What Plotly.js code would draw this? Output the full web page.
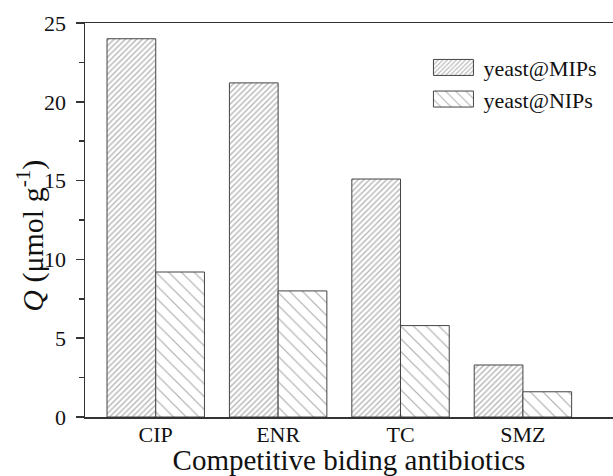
<!DOCTYPE html>
<html>
<head>
<meta charset="utf-8">
<script src="https://cdn.plot.ly/plotly-3.0.1.min.js"></script>
<style>
  html, body { margin: 0; padding: 0; background: #fff; }
  #chart { width: 613px; height: 476px; }
</style>
</head>
<body>
<div id="chart"></div>
<script>
// Competitive adsorption of antibiotics on yeast-based imprinted / non-imprinted polymers
const antibiotics = ['CIP', 'ENR', 'TC', 'SMZ'];
const mipsQ = [24.0, 21.2, 15.1, 3.3];
const nipsQ = [9.2, 8.0, 5.8, 1.6];
const seriesNames = ['yeast@MIPs', 'yeast@NIPs'];
const yTicks = [0, 5, 10, 15, 20, 25];
const yTitle = '<i>Q</i> (μmol g<sup>-1</sup>)';
const xTitle = 'Competitive biding antibiotics';

const serif = 'Liberation Serif, Times New Roman, serif';

const traces = [
  {
    type: 'bar',
    name: seriesNames[0],
    x: antibiotics,
    y: mipsQ,
    marker: {
      color: '#ffffff',
      line: { color: '#444', width: 1 },
      pattern: { shape: '/', size: 4, solidity: 0.35, fgcolor: '#6e6e6e', bgcolor: '#ffffff', fillmode: 'overlay' }
    }
  },
  {
    type: 'bar',
    name: seriesNames[1],
    x: antibiotics,
    y: nipsQ,
    marker: {
      color: '#ffffff',
      line: { color: '#444', width: 1 },
      pattern: { shape: '\\', size: 9, solidity: 0.13, fgcolor: '#5a5a5a', bgcolor: '#ffffff', fillmode: 'overlay' }
    }
  }
];

const layout = {
  width: 613,
  height: 476,
  margin: { l: 85, r: 0, t: 23, b: 59 },
  paper_bgcolor: '#fff',
  plot_bgcolor: '#fff',
  barmode: 'group',
  bargap: 0.204,
  bargroupgap: 0,
  font: { family: serif, color: '#111', size: 22 },
  showlegend: true,
  legend: {
    x: 0.98, xanchor: 'right',
    y: 0.94, yanchor: 'top',
    bgcolor: 'rgba(0,0,0,0)',
    font: { family: serif, size: 22, color: '#111' },
    tracegroupgap: 0,
    itemwidth: 50
  },
  xaxis: {
    type: 'category',
    range: [-0.578, 3.736],
    showgrid: false,
    zeroline: false,
    showline: true,
    linecolor: '#333',
    linewidth: 1.5,
    mirror: true,
    ticks: '',
    ticklabelstandoff: -3,
    tickfont: { family: serif, size: 22, color: '#111' },
    title: { text: xTitle, font: { family: serif, size: 29, color: '#111' }, standoff: 7 },
    automargin: false
  },
  yaxis: {
    range: [0, 25],
    tickvals: yTicks,
    ticktext: yTicks.map(String),
    showgrid: false,
    zeroline: false,
    showline: true,
    linecolor: '#333',
    linewidth: 1.5,
    ticks: 'outside',
    ticklen: 8,
    tickwidth: 1.5,
    tickcolor: '#333',
    ticklabelstandoff: 5,
    tickfont: { family: serif, size: 22, color: '#111' },
    minor: { dtick: 2.5, ticks: 'outside', ticklen: 5, tickwidth: 1.5, tickcolor: '#333', showgrid: false },
    automargin: false
  },
  annotations: [
    {
      text: yTitle,
      textangle: -90,
      xref: 'paper', yref: 'paper',
      x: 0, y: 0.46,
      xanchor: 'center', yanchor: 'middle',
      xshift: -54,
      showarrow: false,
      font: { family: serif, size: 30, color: '#111' }
    }
  ]
};

Plotly.newPlot('chart', traces, layout, { displayModeBar: false, staticPlot: true }).then(function (gd) {
  // widen the legend swatches into flat hatched boxes
  gd.querySelectorAll('.legend .legendpoints path').forEach(function (p) {
    p.setAttribute('d', 'M20,8H-20V-8H20Z');
    p.style.strokeWidth = '1px';
    p.style.stroke = '#444';
  });
});
</script>
</body>
</html>
